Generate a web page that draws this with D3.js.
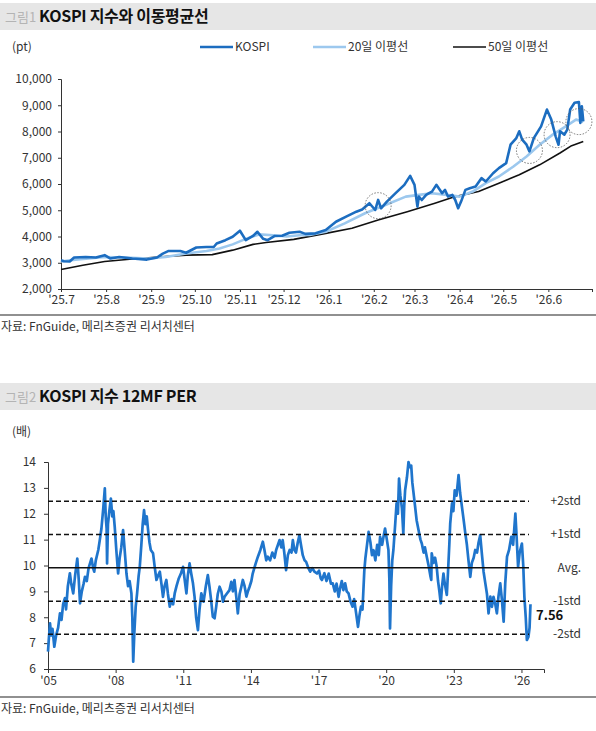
<!DOCTYPE html>
<html>
<head>
<meta charset="utf-8">
<script src="https://cdn.jsdelivr.net/npm/d3@7"></script>
<style>
  body { margin: 0; background: #fff; }
  svg text { font-family: "Noto Sans CJK KR", "Noto Sans", sans-serif; }
</style>
</head>
<body>
<div id="chart"></div>
<script>
// 그림1 데이터
var kospiDates = ["2025-07-01","2025-07-03","2025-07-07","2025-07-10","2025-07-18","2025-07-25","2025-07-31",
  "2025-08-04","2025-08-10","2025-08-19","2025-08-29","2025-09-05","2025-09-09","2025-09-13","2025-09-21",
  "2025-09-25","2025-10-02","2025-10-09","2025-10-14","2025-10-16","2025-10-22","2025-10-27","2025-11-01",
  "2025-11-05","2025-11-10","2025-11-13","2025-11-17","2025-11-20","2025-11-25","2025-11-30","2025-12-05",
  "2025-12-12","2025-12-16","2025-12-23","2025-12-30","2026-01-06","2026-01-13","2026-01-20","2026-01-24",
  "2026-01-29","2026-02-02","2026-02-04","2026-02-06","2026-02-10","2026-02-16","2026-02-22","2026-02-26",
  "2026-03-01","2026-03-03","2026-03-04","2026-03-06","2026-03-09","2026-03-11","2026-03-13","2026-03-16",
  "2026-03-20","2026-03-22","2026-03-24","2026-03-27","2026-03-29","2026-03-31","2026-04-02","2026-04-05",
  "2026-04-08","2026-04-12","2026-04-16","2026-04-19","2026-04-24","2026-04-28","2026-05-03","2026-05-06",
  "2026-05-10","2026-05-12","2026-05-14","2026-05-17","2026-05-19","2026-05-22","2026-05-27","2026-05-31",
  "2026-06-03","2026-06-06","2026-06-08","2026-06-09","2026-06-12","2026-06-14","2026-06-16","2026-06-19",
  "2026-06-22","2026-06-23","2026-06-24","2026-06-25"];
var kospiValues = [3098,3060,3050,3200,3220,3200,3290,
  3160,3220,3160,3120,3200,3350,3450,3450,
  3380,3580,3600,3600,3735,3860,3990,4220,
  3860,4020,4180,3910,3860,4020,4030,4140,
  4180,4100,4120,4245,4563,4754,4946,5030,
  5267,5010,5393,5075,5330,5650,5967,6311,
  5967,5137,5520,5390,5585,5650,5711,5967,
  5650,5775,5520,5585,5390,5075,5330,5775,
  5840,5903,6223,6095,6410,6605,6795,7497,
  7750,8007,7690,7497,7243,7750,8197,8836,
  8454,7817,7497,8007,7880,8070,8836,9093,
  9118,8327,8963,8390];

var ma20Dates = ["2025-07-01","2025-07-11","2025-07-31","2025-08-14","2025-08-30","2025-09-11","2025-09-25",
  "2025-10-09","2025-10-18","2025-10-27","2025-11-05","2025-11-14","2025-11-24","2025-12-03","2025-12-12",
  "2025-12-19","2025-12-30","2026-01-12","2026-01-26","2026-02-09","2026-02-23","2026-03-04","2026-03-13",
  "2026-03-23","2026-04-01","2026-04-10","2026-04-19","2026-04-28","2026-05-08","2026-05-17","2026-05-26",
  "2026-06-04","2026-06-13","2026-06-20","2026-06-25"];
var ma20Values = [3050,3120,3220,3200,3160,3220,3350,
  3450,3540,3700,3910,4080,4050,4000,4050,
  4055,4180,4500,4885,5200,5520,5585,5650,
  5585,5520,5711,6032,6285,6667,7050,7497,
  7880,8197,8454,8360];

var ma50Dates = ["2025-07-01","2025-07-16","2025-07-31","2025-08-19","2025-09-06","2025-09-25","2025-10-13",
  "2025-10-27","2025-11-10","2025-11-19","2025-12-08","2025-12-30","2026-01-17","2026-02-04","2026-02-24",
  "2026-03-15","2026-03-29","2026-04-14","2026-04-28","2026-05-12","2026-05-26","2026-06-09","2026-06-17",
  "2026-06-25"];
var ma50Values = [2742,2908,3050,3140,3220,3290,3310,
  3480,3700,3770,3890,4119,4311,4628,4946,
  5267,5520,5711,6032,6350,6730,7180,7460,
  7620];

var circleDates = ["2026-02-04","2026-05-19","2026-06-07","2026-06-22"];
var circleValues = [5175,7279,7880,8377];

var kospiTicks = [2000,3000,4000,5000,6000,7000,8000,9000,10000];
var monthTicks = ["2025-07-01","2025-08-01","2025-09-01","2025-10-01","2025-11-01","2025-12-01",
  "2026-01-01","2026-02-01","2026-03-01","2026-04-01","2026-05-01","2026-06-01","2026-07-01"];
var monthLabels = ["'25.7","'25.8","'25.9","'25.10","'25.11","'25.12","'26.1","'26.2","'26.3","'26.4","'26.5","'26.6",""];

// 그림2 데이터
var perYears = [2005.00,2005.04,2005.09,2005.14,2005.20,2005.28,2005.36,2005.45,2005.53,2005.60,2005.67,2005.75,2005.80,2005.88,2005.97,
  2006.03,2006.12,2006.20,2006.30,2006.36,2006.42,2006.50,2006.58,2006.64,2006.72,2006.80,2006.87,2006.93,
  2007.00,2007.05,2007.12,2007.23,2007.30,2007.37,2007.45,2007.52,2007.56,2007.60,2007.62,2007.66,2007.72,2007.79,2007.85,2007.90,2007.96,
  2008.03,2008.11,2008.18,2008.25,2008.33,2008.40,2008.48,2008.55,2008.62,2008.70,2008.74,2008.78,2008.83,2008.89,2008.95,
  2009.02,2009.07,2009.14,2009.20,2009.26,2009.32,2009.38,2009.44,2009.50,2009.56,2009.66,2009.74,2009.81,2009.88,2009.96,
  2010.03,2010.10,2010.17,2010.25,2010.32,2010.40,2010.48,2010.55,2010.62,2010.70,2010.80,2010.90,2010.99,
  2011.07,2011.14,2011.20,2011.28,2011.35,2011.43,2011.50,2011.57,2011.65,2011.72,2011.80,2011.90,
  2012.00,2012.09,2012.16,2012.23,2012.31,2012.39,2012.46,2012.53,2012.61,2012.69,2012.76,2012.83,2012.92,
  2013.05,2013.13,2013.20,2013.27,2013.35,2013.42,2013.50,2013.58,2013.64,2013.72,2013.80,2013.86,2013.94,
  2014.02,2014.08,2014.15,2014.22,2014.31,2014.42,2014.53,2014.60,2014.68,2014.75,2014.85,2014.95,
  2015.05,2015.12,2015.20,2015.27,2015.35,2015.41,2015.48,2015.56,2015.64,2015.72,2015.80,2015.86,2015.93,
  2016.00,2016.08,2016.15,2016.22,2016.30,2016.38,2016.45,2016.55,2016.63,2016.72,2016.82,2016.93,
  2017.02,2017.10,2017.15,2017.26,2017.35,2017.45,2017.55,2017.63,2017.72,2017.80,2017.89,2017.95,
  2018.03,2018.10,2018.18,2018.25,2018.33,2018.42,2018.51,2018.58,2018.66,2018.75,2018.82,2018.88,2018.95,
  2019.03,2019.08,2019.15,2019.22,2019.30,2019.37,2019.44,2019.52,2019.60,2019.67,2019.73,2019.82,2019.88,2019.95,
  2020.03,2020.10,2020.14,2020.17,2020.22,2020.27,2020.32,2020.40,2020.46,2020.52,2020.57,2020.63,2020.70,2020.76,2020.80,2020.84,2020.92,2020.99,
  2021.05,2021.11,2021.16,2021.20,2021.28,2021.35,2021.45,2021.52,2021.58,2021.66,2021.72,2021.80,2021.88,2021.96,
  2022.00,2022.02,2022.10,2022.17,2022.24,2022.30,2022.36,2022.42,2022.48,2022.54,2022.60,2022.69,2022.74,2022.80,2022.84,2022.92,2022.98,
  2023.04,2023.12,2023.21,2023.28,2023.36,2023.43,2023.51,2023.58,2023.65,2023.73,2023.80,2023.88,2023.95,
  2024.03,2024.10,2024.17,2024.25,2024.32,2024.40,2024.47,2024.54,2024.62,2024.69,2024.76,2024.84,2024.91,2024.98,
  2025.06,2025.13,2025.21,2025.28,2025.36,2025.45,2025.55,2025.63,2025.68,2025.73,2025.78,2025.85,2025.92,
  2026.02,2026.08,2026.13,2026.19,2026.24,2026.31,2026.36,2026.40];
var perValues = [6.67,7.2,7.76,7.3,7.55,6.86,7.3,7.6,8.15,7.9,8.5,8.74,8.3,9.2,9.7,
  9.3,8.92,9.6,10.27,9.5,8.54,9.0,9.3,9.56,9.4,9.9,10.1,10.27,
  9.9,9.76,10.2,10.6,11.0,11.43,12.2,12.98,11.9,11.43,10.08,11.6,12.1,12.59,11.9,12.1,11.49,
  10.6,9.69,10.3,10.7,11.37,10.6,9.69,9.2,9.4,8.92,8.0,6.28,7.4,8.41,8.9,
  9.6,9.95,10.8,11.6,12.14,11.6,11.9,11.37,10.9,10.6,10.47,9.9,9.44,9.6,9.76,
  9.3,8.79,9.2,9.44,8.9,8.41,8.7,8.5,8.92,9.2,9.5,9.7,9.95,
  9.4,8.92,9.6,10.08,9.7,9.31,8.8,8.0,7.5,8.3,8.92,8.6,
  9.2,9.63,9.2,8.7,8.02,7.96,8.4,8.9,9.18,9.0,8.6,8.79,8.9,
  9.05,9.37,9.0,9.44,8.8,8.15,8.9,9.2,9.44,9.2,8.8,8.98,9.18,
  9.4,9.69,9.9,10.1,10.34,10.6,10.92,10.6,10.2,10.34,10.2,10.5,
  10.3,10.6,10.8,10.98,10.7,10.98,10.5,9.82,10.4,10.6,10.5,10.98,10.6,
  10.5,10.9,11.17,10.8,10.4,10.2,10.14,9.9,9.76,9.9,9.76,9.69,
  9.8,9.5,9.44,9.7,9.4,9.69,9.3,9.31,9.0,9.3,8.79,9.1,
  9.4,9.05,9.31,9.0,8.92,8.6,8.41,8.7,8.2,7.63,8.1,8.41,8.3,
  9.8,10.3,10.8,11.3,10.9,10.4,10.59,10.2,10.8,10.4,11.11,10.8,11.1,11.43,
  11.0,10.6,9.5,7.57,9.2,10.2,10.6,11.6,12.4,12.0,13.36,12.7,12.2,11.24,12.3,12.91,13.4,14.0,
  13.8,13.86,13.2,12.9,12.3,11.75,11.3,11.0,10.85,10.5,10.7,10.34,10.0,9.6,
  9.44,10.47,10.1,10.3,9.95,9.4,9.0,8.54,9.2,9.69,9.3,8.86,9.7,10.8,11.62,12.4,12.1,
  12.9,12.7,13.49,12.8,12.27,11.8,11.24,10.8,10.2,9.56,10.1,10.3,10.6,
  10.5,10.9,11.17,10.4,9.76,9.3,8.9,8.15,8.8,8.4,8.79,8.5,8.15,8.8,
  9.31,8.7,7.83,9.3,10.34,10.6,11.11,10.8,11.4,12.01,11.2,9.95,10.5,
  10.85,10.0,8.79,8.0,7.12,7.24,7.6,8.5];

var bandValues = [12.48, 11.2, 9.91, 8.62, 7.34];
var bandLabels = ["+2std", "+1std", "Avg.", "-1std", "-2std"];
var perTicks = [6,7,8,9,10,11,12,13,14];
var yearTicks = [2005,2008,2011,2014,2017,2020,2023,2026];
var lastPerLabel = "7.56";

var W = 596, H = 731;
var svg = d3.select("#chart").append("svg")
  .attr("width", W).attr("height", H);

var parse = d3.timeParse("%Y-%m-%d");

// 제목 띠
function header(y, num, title){
  svg.append("rect").attr("x", 0).attr("y", y).attr("width", W).attr("height", 27).attr("fill", "#e6e6e6");
  var t = svg.append("text").attr("x", 5).attr("y", y + 19).attr("font-size", 16);
  t.append("tspan").attr("fill", "#b4b4b4").attr("font-size", 13).text(num + " ");
  t.append("tspan").attr("fill", "#111").attr("font-weight", 700).attr("letter-spacing", -0.3).text(title);
}

function footer(y){
  svg.append("line").attr("x1", 0).attr("x2", W).attr("y1", y).attr("y2", y)
    .attr("stroke", "#222").attr("stroke-width", 1.2);
  svg.append("text").attr("x", 1).attr("y", y + 16).attr("font-size", 12).attr("fill", "#333")
    .text("자료: FnGuide, 메리츠증권 리서치센터");
}

function styleAxis(g){
  g.selectAll("text").attr("font-size", 12).attr("fill", "#333");
  g.selectAll("line,path").attr("stroke", "#333");
}

// ===== 그림1 =====
header(3, "그림1", "KOSPI 지수와 이동평균선");
svg.append("text").attr("x", 12).attr("y", 51).attr("font-size", 12).attr("fill", "#333").text("(pt)");

var x1 = d3.scaleTime().domain([parse("2025-07-01"), parse("2026-07-01")]).range([61, 592]);
var y1 = d3.scaleLinear().domain([2000, 10000]).range([289, 79]);

var g1 = svg.append("g");
g1.append("g").attr("transform", "translate(61,0)")
  .call(d3.axisLeft(y1).tickValues(kospiTicks).tickSize(3).tickPadding(6).tickFormat(d3.format(",")))
  .call(styleAxis);
g1.append("g").attr("transform", "translate(0,289)")
  .call(d3.axisBottom(x1).tickValues(monthTicks.map(parse)).tickSize(3).tickPadding(3)
    .tickFormat(function(d, i){ return monthLabels[i]; }))
  .call(styleAxis);

function drawSeries(dates, values, color, width){
  var pts = dates.map(function(d, i){ return [parse(d), values[i]]; });
  g1.append("path").datum(pts)
    .attr("fill", "none").attr("stroke", color).attr("stroke-width", width)
    .attr("stroke-linejoin", "round")
    .attr("d", d3.line().x(function(d){ return x1(d[0]); }).y(function(d){ return y1(d[1]); }));
}
drawSeries(ma50Dates, ma50Values, "#111", 1.6);
drawSeries(ma20Dates, ma20Values, "#9cc8ee", 2.6);
drawSeries(kospiDates, kospiValues, "#1c6dc0", 2.6);

g1.selectAll("circle.mark").data(circleDates).enter().append("circle")
  .attr("cx", function(d){ return x1(parse(d)); })
  .attr("cy", function(d, i){ return y1(circleValues[i]); })
  .attr("r", 13)
  .attr("fill", "none").attr("stroke", "#555").attr("stroke-width", 0.8).attr("stroke-dasharray", "1.5,1.5");

// 범례
var legend = [["KOSPI", "#1c6dc0", 2.6, 200], ["20일 이평선", "#9cc8ee", 2.6, 313], ["50일 이평선", "#111", 1.6, 453]];
legend.forEach(function(l){
  svg.append("line").attr("x1", l[3]).attr("x2", l[3] + 33).attr("y1", 47).attr("y2", 47)
    .attr("stroke", l[1]).attr("stroke-width", l[2]);
  svg.append("text").attr("x", l[3] + 35).attr("y", 51).attr("font-size", 12).attr("fill", "#333").text(l[0]);
});

footer(315);

// ===== 그림2 =====
header(383, "그림2", "KOSPI 지수 12MF PER");
svg.append("text").attr("x", 12).attr("y", 436).attr("font-size", 12).attr("fill", "#333").text("(배)");

var x2 = d3.scaleLinear().domain([2005, 2027]).range([48, 544]);
var y2 = d3.scaleLinear().domain([6, 14]).range([669, 462]);

var g2 = svg.append("g");
g2.append("g").attr("transform", "translate(48,0)")
  .call(d3.axisLeft(y2).tickValues(perTicks).tickSize(4).tickPadding(8))
  .call(styleAxis);
g2.append("g").attr("transform", "translate(0,669)")
  .call(d3.axisBottom(x2).tickValues(yearTicks).tickSize(4).tickPadding(3)
    .tickFormat(function(d){ return "'" + String(d).slice(2); }))
  .call(styleAxis);

var perPts = perYears.map(function(d, i){ return [d, perValues[i]]; });
g2.append("path").datum(perPts)
  .attr("fill", "none").attr("stroke", "#1f75cc").attr("stroke-width", 2.7)
  .attr("stroke-linejoin", "round")
  .attr("d", d3.line().x(function(d){ return x2(d[0]); }).y(function(d){ return y2(d[1]); }));

g2.selectAll("line.band").data(bandValues).enter().append("line")
  .attr("x1", 48).attr("x2", 529)
  .attr("y1", function(d){ return y2(d); }).attr("y2", function(d){ return y2(d); })
  .attr("stroke", "#111").attr("stroke-width", 1.5)
  .attr("stroke-dasharray", function(d, i){ return i == 2 ? null : "5,3"; });

g2.selectAll("text.band").data(bandLabels).enter().append("text")
  .attr("x", 581).attr("y", function(d, i){ return y2(bandValues[i]) + 4; })
  .attr("text-anchor", "end").attr("font-size", 12).attr("fill", "#333")
  .text(function(d){ return d; });

g2.append("text").attr("x", 536).attr("y", y2(8.1) + 5).attr("font-size", 13)
  .attr("font-weight", 700).attr("fill", "#111").text(lastPerLabel);

footer(697);
</script>
</body>
</html>
